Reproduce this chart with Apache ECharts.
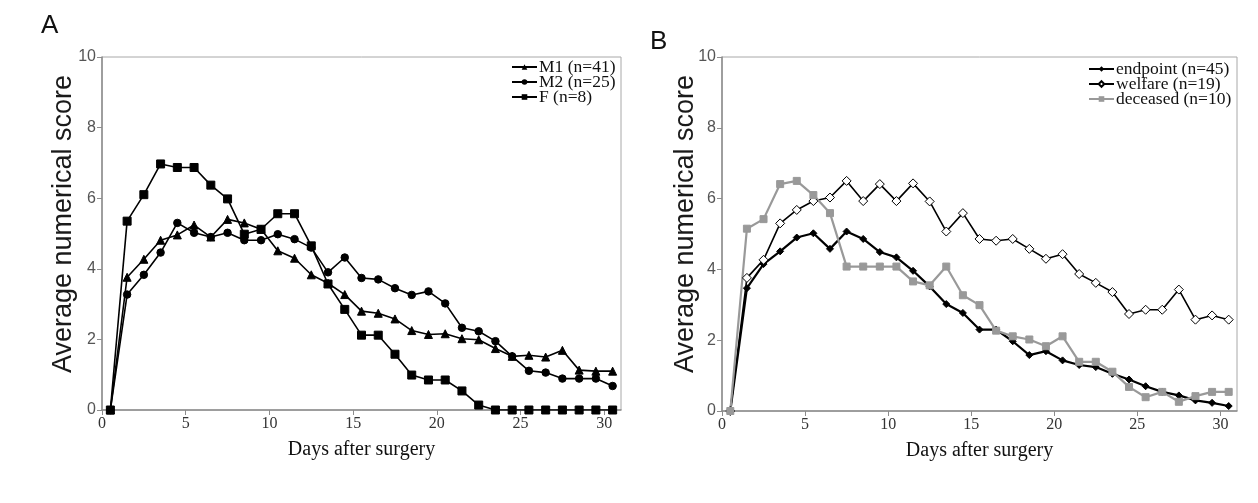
<!DOCTYPE html>
<html>
<head>
<meta charset="utf-8">
<title>Average numerical score after surgery</title>
<script src="https://cdn.jsdelivr.net/npm/echarts@6/dist/echarts.min.js"></script>
<style>
  html, body { margin: 0; padding: 0; background: #ffffff; }
  #chart { width: 1258px; height: 503px; }
</style>
</head>
<body>
<div id="chart"></div>
<script>
// ── Data ────────────────────────────────────────
// points sit half way through each day
const days = [0.5, 1.5, 2.5, 3.5, 4.5, 5.5, 6.5, 7.5, 8.5, 9.5, 10.5, 11.5, 12.5, 13.5, 14.5, 15.5,
              16.5, 17.5, 18.5, 19.5, 20.5, 21.5, 22.5, 23.5, 24.5, 25.5, 26.5, 27.5, 28.5, 29.5, 30.5];
const xTicks = [0, 5, 10, 15, 20, 25, 30];

// Panel A
const m1 = [0, 3.76, 4.27, 4.81, 4.96, 5.24, 4.9, 5.4, 5.3, 5.12, 4.51, 4.3, 3.83, 3.59, 3.27, 2.8,
            2.74, 2.58, 2.25, 2.14, 2.16, 2.02, 1.99, 1.74, 1.52, 1.55, 1.5, 1.69, 1.13, 1.1, 1.1];
const m2 = [0, 3.27, 3.83, 4.46, 5.3, 5.02, 4.9, 5.02, 4.81, 4.81, 4.98, 4.84, 4.6, 3.9, 4.32, 3.74,
            3.7, 3.45, 3.26, 3.36, 3.02, 2.33, 2.23, 1.95, 1.52, 1.11, 1.06, 0.89, 0.89, 0.89, 0.68];
const f  = [0, 5.35, 6.1, 6.97, 6.87, 6.87, 6.37, 5.98, 4.98, 5.12, 5.56, 5.56, 4.65, 3.57, 2.85, 2.12,
            2.12, 1.58, 0.99, 0.85, 0.85, 0.54, 0.14, 0, 0, 0, 0, 0, 0, 0, 0];

// Panel B
const endpoint = [0, 3.47, 4.15, 4.51, 4.9, 5.02, 4.58, 5.07, 4.86, 4.49, 4.34, 3.96, 3.52, 3.02, 2.77, 2.3,
                  2.3, 1.97, 1.58, 1.69, 1.43, 1.3, 1.24, 1.05, 0.89, 0.7, 0.54, 0.44, 0.3, 0.23, 0.14];
const welfare  = [0, 3.76, 4.27, 5.3, 5.68, 5.93, 6.03, 6.5, 5.93, 6.41, 5.93, 6.43, 5.92, 5.07, 5.59, 4.86,
                  4.81, 4.86, 4.58, 4.3, 4.43, 3.87, 3.62, 3.36, 2.74, 2.86, 2.86, 3.43, 2.58, 2.7, 2.58];
const deceased = [0, 5.15, 5.42, 6.41, 6.5, 6.1, 5.59, 4.08, 4.08, 4.08, 4.08, 3.66, 3.55, 4.08, 3.27, 2.99,
                  2.27, 2.11, 2.02, 1.83, 2.11, 1.39, 1.39, 1.11, 0.68, 0.39, 0.54, 0.26, 0.42, 0.54, 0.54];

const namesA = ['M1 (n=41)', 'M2 (n=25)', 'F (n=8)'];
const namesB = ['endpoint (n=45)', 'welfare (n=19)', 'deceased (n=10)'];
const yTitle = 'Average numerical score';

// ── Styles ──────────────────────────────────────
const SERIF = '"Liberation Serif", "DejaVu Serif", serif';
const SANS  = '"Liberation Sans", Arial, sans-serif';
const AXIS_GREY = '#8c8c8c';

function pairs(vals) {
    return vals.map(function (v, i) { return [days[i], v]; });
}

function xAxisFor(gridIndex) {
    return {
        type: 'value', gridIndex: gridIndex, min: 0, max: 31,
        name: 'Days after surgery', nameLocation: 'middle', nameGap: 30,
        nameTextStyle: { fontFamily: SERIF, fontSize: 20, color: '#111' },
        axisLine: { show: true, lineStyle: { color: AXIS_GREY, width: 1.5 } },
        axisTick: { show: true, length: 5, customValues: xTicks, lineStyle: { color: AXIS_GREY } },
        axisLabel: { customValues: xTicks, fontFamily: SERIF, fontSize: 16, color: '#333', margin: 6 },
        splitLine: { show: false }
    };
}

function yAxisFor(gridIndex) {
    return {
        type: 'value', gridIndex: gridIndex, min: 0, max: 10, interval: 2,
        axisLine: { show: true, lineStyle: { color: AXIS_GREY, width: 1.5 } },
        axisTick: { show: true, length: 5, lineStyle: { color: AXIS_GREY } },
        axisLabel: { fontFamily: SANS, fontSize: 16, color: '#555', margin: 6 },
        splitLine: { show: false }
    };
}

function lineSeries(name, vals, idx, opts) {
    return Object.assign({
        name: name, type: 'line', xAxisIndex: idx, yAxisIndex: idx,
        data: pairs(vals), symbolSize: 7, showAllSymbol: true,
        lineStyle: { color: '#000', width: 1.6 },
        itemStyle: { color: '#000', borderColor: '#000' },
        emphasis: { disabled: true },
        animation: false
    }, opts);
}

function legendFor(names, left, top) {
    return {
        data: names, orient: 'vertical', left: left, top: top,
        itemWidth: 25, itemHeight: 7, itemGap: -3, padding: 0,
        textStyle: { fontFamily: SERIF, fontSize: 17.5, lineHeight: 15, color: '#111', padding: [0, 0, 0, -3] }
    };
}

// vertical axis title, drawn as rotated text
function yTitleAt(x, y) {
    return {
        type: 'text', x: x, y: y, rotation: Math.PI / 2,
        style: {
            text: yTitle, fontFamily: SANS, fontSize: 27, fill: '#1a1a1a',
            align: 'center', verticalAlign: 'middle'
        }
    };
}

// ── Chart ───────────────────────────────────────
const chart = echarts.init(document.getElementById('chart'), null, { renderer: 'canvas' });

chart.setOption({
    backgroundColor: '#ffffff',
    title: [
        { text: 'A', left: 36, top: 8, textStyle: { fontFamily: SANS, fontSize: 26, fontWeight: 'normal', color: '#111' } },
        { text: 'B', left: 645, top: 24, textStyle: { fontFamily: SANS, fontSize: 26, fontWeight: 'normal', color: '#111' } }
    ],
    legend: [
        legendFor(namesA, 511, 58),
        legendFor(namesB, 1088, 60)
    ],
    graphic: [
        yTitleAt(64, 224),
        yTitleAt(686, 224)
    ],
    grid: [
        { left: 102, top: 57, width: 519, height: 353, show: true, borderColor: '#a8a8a8', borderWidth: 1 },
        { left: 722, top: 57, width: 515, height: 354, show: true, borderColor: '#a8a8a8', borderWidth: 1 }
    ],
    xAxis: [xAxisFor(0), xAxisFor(1)],
    yAxis: [yAxisFor(0), yAxisFor(1)],
    series: [
        lineSeries(namesA[0], m1, 0, { symbol: 'triangle', symbolSize: 8 }),
        lineSeries(namesA[1], m2, 0, { symbol: 'circle', symbolSize: 7.5 }),
        lineSeries(namesA[2], f, 0, { symbol: 'rect', symbolSize: 8 }),

        lineSeries(namesB[0], endpoint, 1, {
            symbol: 'diamond', symbolSize: 7, lineStyle: { color: '#000', width: 2.2 }
        }),
        lineSeries(namesB[1], welfare, 1, {
            symbol: 'diamond', symbolSize: 9,
            itemStyle: { color: '#fff', borderColor: '#000', borderWidth: 1 }
        }),
        lineSeries(namesB[2], deceased, 1, {
            symbol: 'rect', symbolSize: 7,
            lineStyle: { color: '#999', width: 2.2 },
            itemStyle: { color: '#999', borderColor: '#999' }
        })
    ]
});
</script>
</body>
</html>
